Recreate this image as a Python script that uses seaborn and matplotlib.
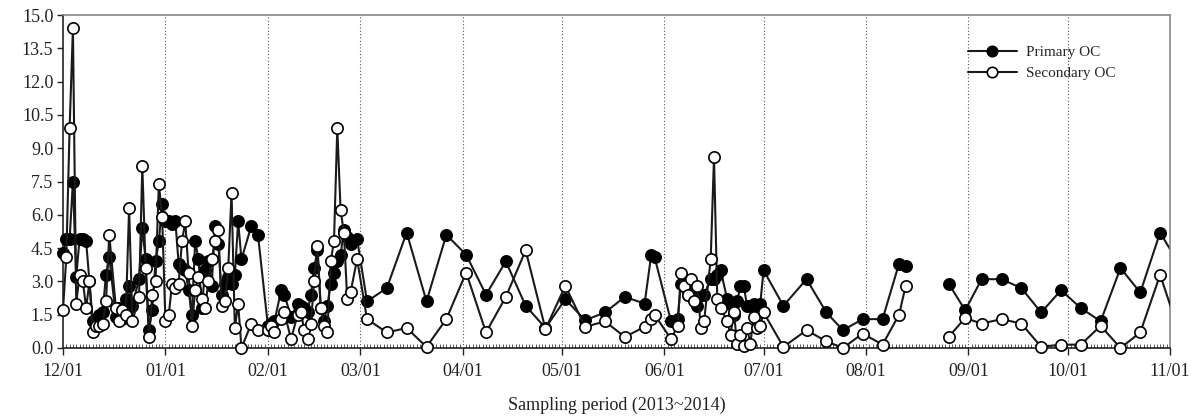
import pandas as pd
import seaborn as sns
import matplotlib.pyplot as plt
import matplotlib.dates as mdates
from matplotlib.lines import Line2D

# Sampling dates and OC concentrations
dates = [
    "2013-12-01", "2013-12-02", "2013-12-03", "2013-12-04", "2013-12-05", "2013-12-06",
    "2013-12-07", "2013-12-08", "2013-12-09", "2013-12-10", "2013-12-11", "2013-12-12",
    "2013-12-13", "2013-12-14", "2013-12-15", "2013-12-17", "2013-12-18", "2013-12-19",
    "2013-12-20", "2013-12-21", "2013-12-22", "2013-12-24", "2013-12-25", "2013-12-26",
    "2013-12-27", "2013-12-28", "2013-12-29", "2013-12-30", "2013-12-31",
    "2014-01-01", "2014-01-02", "2014-01-03", "2014-01-04", "2014-01-05", "2014-01-06",
    "2014-01-07", "2014-01-08", "2014-01-09", "2014-01-10", "2014-01-11", "2014-01-12",
    "2014-01-13", "2014-01-14", "2014-01-15", "2014-01-16", "2014-01-17", "2014-01-18",
    "2014-01-19", "2014-01-20", "2014-01-21", "2014-01-22", "2014-01-23", "2014-01-24",
    "2014-01-27", "2014-01-29",
    "2014-02-01", "2014-02-02", "2014-02-03", "2014-02-05", "2014-02-06", "2014-02-08",
    "2014-02-10", "2014-02-11", "2014-02-12", "2014-02-13", "2014-02-14", "2014-02-15",
    "2014-02-16", "2014-02-17", "2014-02-18", "2014-02-19", "2014-02-20", "2014-02-21",
    "2014-02-22", "2014-02-23", "2014-02-24", "2014-02-25", "2014-02-26", "2014-02-28",
    "2014-03-03", "2014-03-09", "2014-03-15", "2014-03-21", "2014-03-27",
    "2014-04-02", "2014-04-08", "2014-04-14", "2014-04-20", "2014-04-26",
    "2014-05-02", "2014-05-08", "2014-05-14", "2014-05-20", "2014-05-26", "2014-05-28",
    "2014-05-29",
    "2014-06-03", "2014-06-05", "2014-06-06", "2014-06-07", "2014-06-08", "2014-06-09",
    "2014-06-10", "2014-06-11", "2014-06-12", "2014-06-13", "2014-06-15", "2014-06-16",
    "2014-06-17", "2014-06-18", "2014-06-20", "2014-06-21", "2014-06-22", "2014-06-23",
    "2014-06-24", "2014-06-25", "2014-06-26", "2014-06-27", "2014-06-28", "2014-06-29",
    "2014-06-30",
    "2014-07-01", "2014-07-07", "2014-07-14", "2014-07-20", "2014-07-25", "2014-07-31",
    "2014-08-06", "2014-08-11", "2014-08-13",
    "2014-08-26", "2014-08-31", "2014-09-05", "2014-09-11", "2014-09-17", "2014-09-23",
    "2014-09-29", "2014-10-05", "2014-10-11", "2014-10-17", "2014-10-23", "2014-10-29",
    "2014-11-04",
]

primary_oc = [
    4.3, 4.9, 4.9, 7.5, 3.2, 4.9, 4.9, 4.8, 3.0, 1.2, 1.3, 1.5,
    1.6, 3.3, 4.1, 1.4, 1.8, 1.3, 2.2, 2.8, 1.9, 3.1, 5.4, 4.0,
    0.8, 1.7, 3.9, 4.8, 6.5,
    5.7, 5.7, 5.6, 5.7, 3.8, 3.6, 3.5, 2.6, 1.5, 4.8, 4.0, 1.8,
    3.5, 3.9, 2.8, 5.5, 4.7, 2.4, 2.9, 3.2, 2.9, 3.3, 5.7, 4.0,
    5.5, 5.1,
    1.0, 1.1, 1.2, 2.6, 2.4, 1.4, 2.0, 1.9, 1.8, 1.6, 2.4, 3.6,
    4.4, 1.8, 1.2, 1.9, 2.9, 3.4, 3.9, 4.2, 5.3, 5.0, 4.7, 4.9,
    2.1, 2.7, 5.2, 2.1, 5.1,
    4.2, 2.4, 3.9, 1.9, 0.9,
    2.2, 1.25, 1.6, 2.3, 2.0, 4.2, 4.1,
    1.2, 1.3, 2.9, 2.8, 2.4, 2.5, 2.3, 1.9, 2.4, 2.4, 3.1, 3.1,
    3.3, 3.5, 2.2, 2.0, 1.5, 2.1, 2.8, 2.8, 1.9, 1.9, 2.0, 1.9,
    2.0,
    3.5, 1.9, 3.1, 1.6, 0.8, 1.3, 1.3, 3.8, 3.7,
    2.9, 1.7, 3.1, 3.1, 2.7, 1.6, 2.6, 1.8, 1.2, 3.6, 2.5, 5.2,
    3.7,
]

secondary_oc = [
    1.7, 4.1, 9.9, 14.4, 2.0, 3.3, 3.0, 1.8, 3.0, 0.7, 1.0, 1.0,
    1.1, 2.1, 5.1, 1.8, 1.2, 1.7, 1.5, 6.3, 1.2, 2.3, 8.2, 3.6,
    0.5, 2.4, 3.0, 7.4, 5.9,
    1.2, 1.5, 2.9, 2.7, 2.9, 4.8, 5.7, 3.4, 1.0, 2.6, 3.2, 2.2,
    1.8, 3.0, 4.0, 4.8, 5.3, 1.9, 2.1, 3.6, 7.0, 0.9, 2.0, 0.0,
    1.1, 0.8,
    0.8, 1.0, 0.7, 1.3, 1.6, 0.4, 1.5, 1.6, 0.8, 0.4, 1.1, 3.0,
    4.6, 1.8, 1.0, 0.7, 3.9, 4.8, 9.9, 6.2, 5.2, 2.2, 2.5, 4.0,
    1.3, 0.7, 0.9, 0.05, 1.3,
    3.4, 0.7, 2.3, 4.4, 0.85,
    2.8, 0.95, 1.2, 0.5, 0.95, 1.3, 1.5,
    0.4, 1.0, 3.4, 2.8, 2.4, 3.1, 2.1, 2.8, 0.9, 1.2, 4.0, 8.6,
    2.2, 1.8, 1.2, 0.6, 1.6, 0.2, 0.6, 0.1, 0.9, 0.2, 1.4, 0.9,
    1.0,
    1.6, 0.05, 0.8, 0.3, 0.0, 0.65, 0.15, 1.5, 2.8,
    0.5, 1.35, 1.1, 1.3, 1.1, 0.05, 0.15, 0.15, 1.0, 0.0, 0.7, 3.3,
    0.6,
]

df = pd.DataFrame({
    "date": pd.to_datetime(dates),
    "Primary OC": primary_oc,
    "Secondary OC": secondary_oc,
})
# no samples between mid and late August -> break the lines there
df["segment"] = (df["date"] > "2014-08-20").astype(int)
long_df = df.melt(id_vars=["date", "segment"], var_name="series", value_name="OC")

sns.set_theme(style="ticks")
plt.rcParams["font.family"] = ["Liberation Serif", "DejaVu Serif"]

fig = plt.figure(figsize=(11.91, 4.18), dpi=100)
ax = fig.add_axes([0.0529, 0.1675, 0.9295, 0.7965])

start, end = pd.Timestamp("2013-12-01"), pd.Timestamp("2014-11-01")
styles = {"Primary OC": "black", "Secondary OC": "white"}

z = 2
for name, face in styles.items():
    sub = long_df[long_df["series"] == name]
    sns.lineplot(data=sub, x="date", y="OC", units="segment", estimator=None,
                 color="#1a1a1a", lw=1.5, ax=ax, legend=False, zorder=z)
    inside = sub[sub["date"] <= end]
    sns.scatterplot(data=inside, x="date", y="OC", marker="o", s=66, color=face,
                    edgecolor="black", linewidth=1.2, ax=ax, legend=False,
                    clip_on=False, zorder=z + 1)
    z += 2

# dotted month separators
for m in pd.date_range("2014-01-01", "2014-10-01", freq="MS"):
    ax.axvline(m, color="#555555", ls=(0, (1, 2)), lw=0.8, zorder=1)

ax.set_xlim(start, end)
ax.set_ylim(0, 15)
ax.set_yticks([i * 1.5 for i in range(11)])
ax.yaxis.set_major_formatter(plt.FormatStrFormatter("%.1f"))
ax.xaxis.set_major_locator(mdates.MonthLocator())
ax.xaxis.set_major_formatter(mdates.DateFormatter("%m/%d"))
ax.xaxis.set_minor_locator(mdates.DayLocator())

ax.tick_params(axis="x", which="major", direction="out", length=5, width=1,
               labelsize=13, pad=6, colors="#222222")
ax.tick_params(axis="x", which="minor", direction="in", length=3, width=0.6,
               color="#444444")
ax.tick_params(axis="y", which="major", direction="out", length=4, width=1,
               labelsize=13, pad=3, colors="#222222")

for side in ["left", "bottom"]:
    ax.spines[side].set_color("#222222")
    ax.spines[side].set_linewidth(1.2)
for side in ["top", "right"]:
    ax.spines[side].set_color("#888888")
    ax.spines[side].set_linewidth(1.2)

ax.set_ylabel("")
ax.set_xlabel("Sampling period (2013~2014)", fontsize=13, labelpad=12, color="#222222")

handles = [
    Line2D([], [], color="#1a1a1a", lw=1.5, marker="o", markersize=7.5,
           markerfacecolor=face, markeredgecolor="black", markeredgewidth=1.2)
    for face in styles.values()
]
ax.legend(handles, list(styles.keys()), loc="upper left", bbox_to_anchor=(0.805, 0.95),
          frameon=False, fontsize=11, handlelength=3.2, handletextpad=0.6,
          labelspacing=0.5)

fig.savefig("out.png", dpi=100)
